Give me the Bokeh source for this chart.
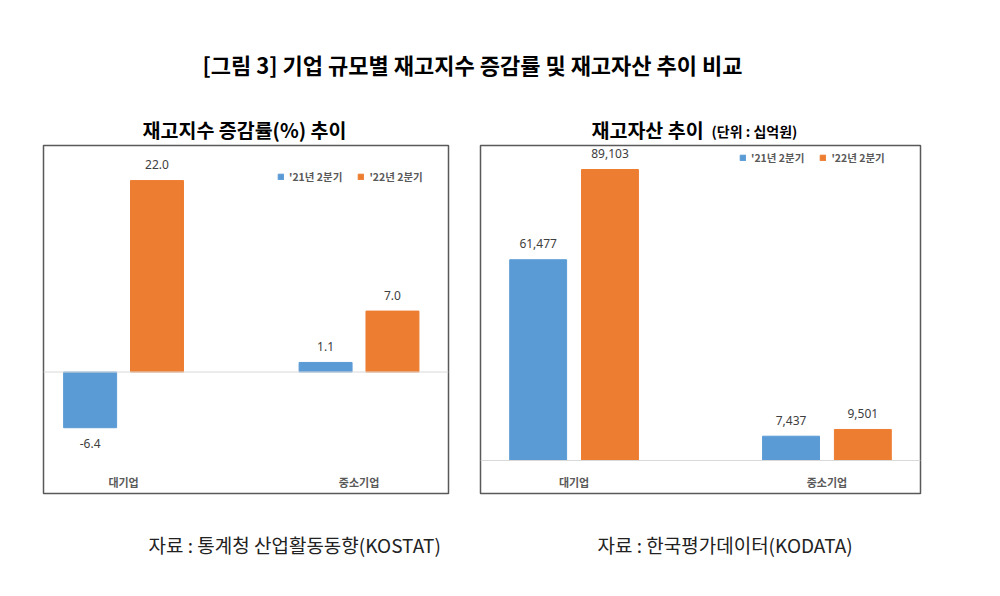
from bokeh.plotting import figure
from bokeh.models import (ColumnDataSource, Range1d, Span, Label, LabelSet, Legend, LegendItem)
from bokeh.core.properties import value
from bokeh.layouts import column, row
from bokeh.embed import file_html
from bokeh.resources import INLINE
import numpy as np

# ---------------- data ----------------
categories = ["대기업", "중소기업"]
series_names = ["'21년 2분기", "'22년 2분기"]
rate_21q2 = [-6.4, 1.1]
rate_22q2 = [22.0, 7.0]
asset_21q2 = [61477, 7437]
asset_22q2 = [89103, 9501]

main_title = "[그림 3] 기업 규모별 재고지수 증감률 및 재고자산 추이 비교"
left_title = "재고지수 증감률(%) 추이"
right_title = "재고자산 추이"
right_unit = "(단위 : 십억원)"
left_source = "자료 : 통계청 산업활동동향(KOSTAT)"
right_source = "자료 : 한국평가데이터(KODATA)"

FONT = "Noto Sans CJK KR"
NUMFONT = "Noto Sans"
BLUE = "#5B9BD5"
ORANGE = "#ED7D31"
TXT = "#404040"
GRAY = "#595959"


def bare(width, height):
    f = figure(width=width, height=height, x_range=Range1d(0, 1), y_range=Range1d(0, 1),
               x_axis_location=None, y_axis_location=None, toolbar_location=None,
               output_backend="svg", min_border=0)
    f.grid.visible = False
    f.outline_line_color = None
    return f


def lab(f, txt, x, y, size, align="left", bold=False, baseline="middle", color="black"):
    f.add_layout(Label(x=x, y=y, x_units="screen", y_units="screen", text=txt,
                       text_align=align, text_baseline=baseline, text_font=FONT,
                       text_font_size=size, text_font_style="bold" if bold else "normal",
                       text_color=color))


def make_chart(width, bl, br, xr, yr, v1, v2, fmt, off, bw, legend_xy):
    p = figure(width=width, height=351, x_range=Range1d(*xr), y_range=Range1d(*yr),
               x_axis_location=None, y_axis_location=None, toolbar_location=None,
               output_backend="svg", min_border_left=bl, min_border_right=br,
               min_border_top=1, min_border_bottom=2)
    p.grid.visible = False
    p.outline_line_color = GRAY
    p.outline_line_width = 1.5
    p.background_fill_color = "white"
    p.border_fill_color = "white"

    idx = np.arange(len(categories))
    p.add_layout(Span(location=0, dimension="width", line_color="#D9D9D9", line_width=1))

    renderers = []
    for vals, col, sign in ((v1, BLUE, -1), (v2, ORANGE, 1)):
        vals = np.array(vals, dtype=float)
        src = ColumnDataSource(dict(
            x=idx + sign * off, top=vals,
            lab=[fmt(v) for v in vals],
            yo=np.where(vals >= 0, 16, -16)))
        r = p.vbar(x="x", top="top", bottom=0, width=bw, source=src,
                   fill_color=col, line_color=col)
        renderers.append(r)
        p.add_layout(LabelSet(x="x", y="top", text="lab", y_offset="yo", source=src,
                              text_align="center", text_baseline="middle",
                              text_font=value(NUMFONT), text_font_size=value("12px"),
                              text_color=TXT))

    cat_src = ColumnDataSource(dict(x=idx, y=[yr[0]] * len(idx), t=categories))
    p.add_layout(LabelSet(x="x", y="y", text="t", y_offset=12, source=cat_src,
                          text_align="center", text_baseline="middle",
                          text_font=value(FONT), text_font_size=value("11px"),
                          text_font_style="bold", text_color=GRAY))

    legend = Legend(items=[LegendItem(label=series_names[i], renderers=[renderers[i]]) for i in range(2)],
                    orientation="horizontal", location=legend_xy,
                    glyph_width=7, glyph_height=7, label_standoff=5, spacing=15,
                    padding=0, margin=0, label_height=12,
                    label_text_font=FONT, label_text_font_size="10.5px",
                    label_text_font_style="bold", label_text_color=GRAY,
                    background_fill_alpha=0, border_line_color=None)
    p.add_layout(legend)
    return p


header = bare(1000, 144)
lab(header, main_title, 472, 81, "22px", align="center", bold=True)
lab(header, left_title, 244, 15, "19.5px", align="center", bold=True)
lab(header, right_title, 591, 15, "19.5px", bold=True)
lab(header, right_unit, 711, 14, "14px", bold=True)

left = make_chart(470, 43, 22, (-0.34, 1.38), (-13.96, 26.03), rate_21q2, rate_22q2,
                  lambda v: f"{v:.1f}", 0.142, 0.225, (234, 309))
right = make_chart(530, 10, 80, (-0.37, 1.37), (-10104, 96452), asset_21q2, asset_22q2,
                   lambda v: f"{int(v):,}", 0.142, 0.225, (259, 328))

footer = bare(1000, 90)
lab(footer, left_source, 148, 41, "19px", color="#222222")
lab(footer, right_source, 597, 41, "19px", color="#222222")

layout = column(header, row(left, right), footer)
open("out.html", "w").write(file_html(layout, INLINE))
